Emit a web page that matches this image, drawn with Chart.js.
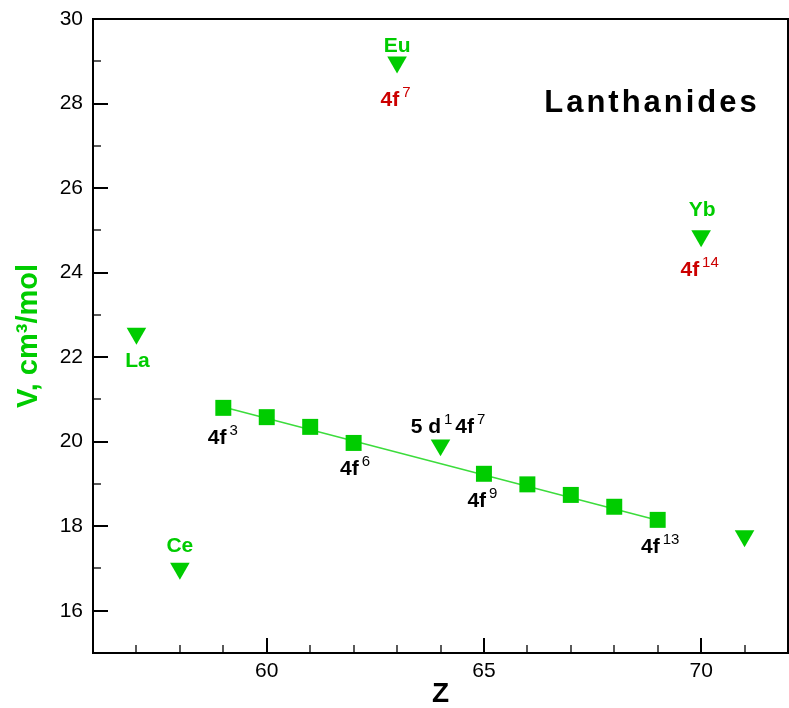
<!DOCTYPE html>
<html>
<head>
<meta charset="utf-8">
<script src="https://cdn.jsdelivr.net/npm/chart.js@4.4.0/dist/chart.umd.min.js"></script>
<style>
    html, body { margin: 0; padding: 0; background: #fff; }
    #wrap { width: 789px; height: 708px; }
</style>
</head>
<body>
<div id="wrap"><canvas id="Volume"></canvas></div>
<script>
// trivalent lanthanides, on the straight fit
const trivalent_z = [59, 60, 61, 62, 65, 66, 67, 68, 69];
const trivalent_v = [20.80, 20.58, 20.35, 19.97, 19.24, 18.99, 18.74, 18.46, 18.15];

// La, Ce, Eu, Gd, Yb, Lu
const other_z = [57, 58, 63, 64, 70, 71];
const other_v = [22.56, 17.00, 28.98, 19.92, 24.87, 17.77];

// end points of the fitted line
const fit_z = [59, 69];
const fit_v = [20.82, 18.14];

const x_range = [56, 72];
const y_range = [15, 30];
const x_labelled = [60, 65, 70];
const y_labelled = [16, 18, 20, 22, 24, 26, 28, 30];

const green = '#00cc00';
const red = '#cc0000';
const font_family = "'Liberation Sans', Arial, Helvetica, sans-serif";

// text pieces: [text, is_superscript]
const notes = [
    {z: 63, v: 28.98, pieces: [['Eu', 0]], color: green, dx: 0, dy: -16},
    {z: 63, v: 28.98, pieces: [['4f', 0], ['7', 1]], color: red, dx: 0, dy: 38},
    {z: 70, v: 24.87, pieces: [['Yb', 0]], color: green, dx: 1, dy: -26},
    {z: 70, v: 24.87, pieces: [['4f', 0], ['14', 1]], color: red, dx: 0, dy: 34},
    {z: 57, v: 22.56, pieces: [['La', 0]], color: green, dx: 1, dy: 28},
    {z: 58, v: 17.00, pieces: [['Ce', 0]], color: green, dx: 0, dy: -22},
    {z: 59, v: 20.80, pieces: [['4f', 0], ['3', 1]], color: '#000', dx: 1, dy: 30},
    {z: 62, v: 19.97, pieces: [['4f', 0], ['6', 1]], color: '#000', dx: 3, dy: 26},
    {z: 64, v: 19.92, pieces: [['5 d', 0], ['1', 1], ['4f', 0], ['7', 1]], color: '#000', dx: 9, dy: -18},
    {z: 65, v: 19.24, pieces: [['4f', 0], ['9', 1]], color: '#000', dx: 0, dy: 27},
    {z: 69, v: 18.15, pieces: [['4f', 0], ['13', 1]], color: '#000', dx: 4, dy: 27},
];

function to_points(xs, ys) {
    return xs.map((x, i) => ({x: x, y: ys[i]}));
}

function draw_pieces(ctx, pieces, cx, cy, color) {
    const base_font = 'bold 21px ' + font_family;
    const sup_font = '15px ' + font_family;
    const gap = 3;
    let total = 0;
    for (const [text, sup] of pieces) {
        ctx.font = sup ? sup_font : base_font;
        total += ctx.measureText(text).width + (sup ? gap * 2 : 0);
    }
    let x = cx - total / 2;
    ctx.fillStyle = color;
    ctx.textAlign = 'left';
    ctx.textBaseline = 'middle';
    for (const [text, sup] of pieces) {
        ctx.font = sup ? sup_font : base_font;
        if (sup) x += gap;
        ctx.fillText(text, x, sup ? cy - 7 : cy);
        x += ctx.measureText(text).width + (sup ? gap : 0);
    }
}

// the scales reserve room for their end labels; the layout padding does that here
function fixed_size(scale, w, h) {
    if (w) scale.width = w;
    if (h) scale.height = h;
    scale.paddingLeft = 0;
    scale.paddingRight = 0;
    scale.paddingTop = 0;
    scale.paddingBottom = 0;
}

const decorations = {
    id: 'decorations',
    afterDraw(chart) {
        const {ctx, chartArea: area, scales: {x, y}} = chart;
        ctx.save();
        ctx.strokeStyle = '#000';
        ctx.lineWidth = 2;
        ctx.beginPath();
        ctx.moveTo(area.left, area.top);
        ctx.lineTo(area.right, area.top);
        ctx.lineTo(area.right, area.bottom);
        ctx.stroke();

        // ticks point into the plot
        for (const t of x.ticks) {
            if (t.value <= x.min || t.value >= x.max) continue;
            const major = x_labelled.includes(t.value);
            const px = Math.round(x.getPixelForValue(t.value));
            ctx.lineWidth = major ? 2 : 1.3;
            ctx.beginPath();
            ctx.moveTo(px, area.bottom);
            ctx.lineTo(px, area.bottom - (major ? 15 : 8));
            ctx.stroke();
        }
        for (const t of y.ticks) {
            if (t.value <= y.min || t.value >= y.max) continue;
            const major = y_labelled.includes(t.value);
            const py = Math.round(y.getPixelForValue(t.value));
            ctx.lineWidth = major ? 2 : 1.3;
            ctx.beginPath();
            ctx.moveTo(area.left, py);
            ctx.lineTo(area.left + (major ? 15 : 8), py);
            ctx.stroke();
        }

        for (const note of notes) {
            const px = x.getPixelForValue(note.z) + note.dx;
            const py = y.getPixelForValue(note.v) + note.dy;
            draw_pieces(ctx, note.pieces, px, py, note.color);
        }

        ctx.font = 'bold 31px ' + font_family;
        ctx.letterSpacing = '3px';
        ctx.fillStyle = '#000';
        ctx.textAlign = 'center';
        ctx.textBaseline = 'middle';
        ctx.fillText('Lanthanides', 652, 103);
        ctx.restore();
    }
};

new Chart(document.getElementById('Volume'), {
    type: 'scatter',
    data: {
        datasets: [
            {
                label: 'trivalent',
                data: to_points(trivalent_z, trivalent_v),
                pointStyle: 'rect',
                pointRadius: 11.3,
                pointHoverRadius: 11.3,
                pointBackgroundColor: green,
                pointBorderWidth: 0,
                order: 0,
            },
            {
                label: 'anomalous',
                data: to_points(other_z, other_v),
                pointStyle: 'triangle',
                pointRotation: 180,
                pointRadius: 11.3,
                pointHoverRadius: 11.3,
                pointBackgroundColor: green,
                pointBorderWidth: 0,
                order: 1,
            },
            {
                label: 'fit',
                data: to_points(fit_z, fit_v),
                showLine: true,
                borderColor: '#3cdc3c',
                borderWidth: 1.5,
                pointRadius: 0,
                order: 2,
            }
        ]
    },
    options: {
        responsive: true,
        maintainAspectRatio: false,
        animation: false,
        events: [],
        layout: {
            // big markers would otherwise push the plot edges inward
            autoPadding: false,
            padding: {top: 19, right: 1, left: 0, bottom: 0}
        },
        plugins: {
            legend: {display: false},
            tooltip: {enabled: false},
        },
        scales: {
            x: {
                type: 'linear',
                min: x_range[0],
                max: x_range[1],
                // tick marks are drawn inward by the plugin, tickLength only spaces the labels
                grid: {display: false, drawTicks: true, tickLength: 6, tickColor: 'transparent'},
                border: {display: true, width: 2, color: '#000'},
                ticks: {
                    stepSize: 1,
                    autoSkip: false,
                    maxRotation: 0,
                    padding: 0,
                    color: '#000',
                    font: {family: font_family, size: 21},
                    callback: (value) => x_labelled.includes(value) ? value : '',
                },
                title: {
                    display: true,
                    text: 'Z',
                    color: '#000',
                    font: {family: font_family, size: 28, weight: 'bold', lineHeight: 1},
                    padding: 0,
                },
                afterFit: (scale) => fixed_size(scale, 0, 55),
            },
            y: {
                type: 'linear',
                min: y_range[0],
                max: y_range[1],
                grid: {display: false, drawTicks: true, tickLength: 10, tickColor: 'transparent'},
                border: {display: true, width: 2, color: '#000'},
                ticks: {
                    stepSize: 1,
                    autoSkip: false,
                    padding: 0,
                    color: '#000',
                    font: {family: font_family, size: 21},
                    callback: (value) => y_labelled.includes(value) ? value : '',
                },
                title: {
                    display: true,
                    text: 'V, cm³/mol',
                    color: green,
                    font: {family: font_family, size: 29, weight: 'bold', lineHeight: 1},
                    padding: {top: 14, bottom: 0},
                },
                afterFit: (scale) => fixed_size(scale, 93, 0),
            }
        }
    },
    plugins: [decorations]
});
</script>
</body>
</html>
